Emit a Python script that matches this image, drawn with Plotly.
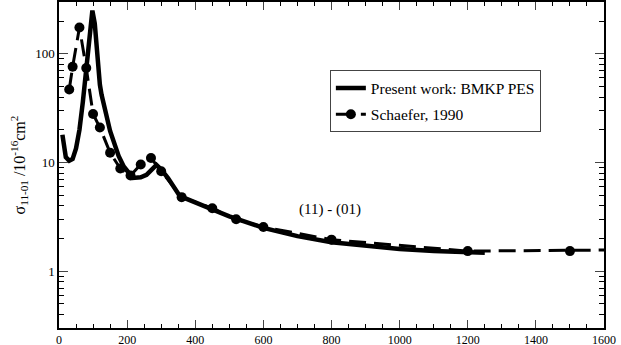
import plotly.graph_objs as go

# present work: BMKP PES (solid curve)
present_x = [10, 15, 20, 30, 40, 50, 60, 70, 80, 90, 98, 105, 110, 115, 120, 125,
             150, 175, 190, 217, 240, 257, 270, 286, 300, 320, 355, 400, 450, 500,
             600, 700, 800, 900, 1000, 1100, 1200, 1250]
present_y = [18, 13, 11.2, 10.4, 10.8, 13.5, 20, 36, 75, 160, 250, 190, 120, 75, 52, 42,
             19.5, 11.5, 9.2, 7.2, 7.3, 7.7, 8.5, 9.5, 8.6, 7.2, 4.9, 4.3, 3.7, 3.2,
             2.5, 2.1, 1.85, 1.7, 1.6, 1.53, 1.5, 1.48]

# Schaefer, 1990 (dashed with circles)
schaefer_x = [30, 40, 60, 80, 100, 120, 150, 180, 210, 240, 270, 300, 360, 450, 520,
              600, 800, 1200, 1500, 2000]
schaefer_y = [47, 76, 175, 74, 28, 21, 12.3, 8.8, 7.6, 9.6, 11, 8.3, 4.8, 3.8, 3.0,
              2.55, 1.95, 1.53, 1.53, 1.6]

x_ticks = [0, 200, 400, 600, 800, 1000, 1200, 1400, 1600]
y_ticks = [1, 10, 100]
y_minor = [0.3, 0.4, 0.5, 0.6, 0.7, 0.8, 0.9, 2, 3, 4, 5, 6, 7, 8, 9,
           20, 30, 40, 50, 60, 70, 80, 90, 200, 300]

serif = 'Liberation Serif'

fig = go.Figure()
fig.add_trace(go.Scatter(x=present_x, y=present_y, mode='lines',
                         name='Present work: BMKP PES', legendgroup='a',
                         line=dict(color='black', width=4.5)))
fig.add_trace(go.Scatter(x=schaefer_x, y=schaefer_y, mode='lines+markers',
                         name='Schaefer, 1990', legendgroup='b',
                         line=dict(color='black', width=3, dash='17px,8px'),
                         marker=dict(color='black', size=10, symbol='circle')))

fig.add_annotation(x=795, y=0.565, yref='y', text='(11) - (01)', showarrow=False,
                   font=dict(family=serif, size=15, color='black'))

fig.update_layout(
    width=621, height=345,
    margin=dict(l=59, r=17, t=2, b=17),
    paper_bgcolor='white', plot_bgcolor='white',
    font=dict(family=serif, size=13, color='black'),
    showlegend=True,
    legend=dict(x=0.497, y=0.79, xanchor='left', yanchor='top',
                bordercolor='#444', borderwidth=1, bgcolor='white',
                font=dict(family=serif, size=15.5), itemwidth=30,
                tracegroupgap=3),
    xaxis=dict(range=[0, 1600], tickvals=x_ticks, ticks='inside', ticklen=8,
               tickfont=dict(size=12),
               showline=True, linecolor='black', linewidth=1.5, mirror='allticks',
               showgrid=False, zeroline=False, automargin=False,
               minor=dict(dtick=50, ticks='inside', ticklen=4, showgrid=False,
                          tickcolor='black')),
    yaxis=dict(type='log', range=[-0.5229, 2.4771], tickvals=y_ticks,
               ticktext=['1', '10', '100'], ticks='inside', ticklen=9,
               showline=True, linecolor='black', linewidth=1.5, mirror='allticks',
               showgrid=False, zeroline=False, automargin=False,
               title=dict(text='σ<sub>11-01</sub> /10<sup>-16</sup>cm<sup>2</sup>',
                          font=dict(family=serif, size=16), standoff=6),
               minor=dict(tickvals=y_minor, ticks='inside', ticklen=5, showgrid=False,
                          tickcolor='black')),
)

# browser body margin would push the figure 8px off the corner
fig.write_html("out.html", config={'displayModeBar': False},
               post_script="document.body.style.margin='0';")
